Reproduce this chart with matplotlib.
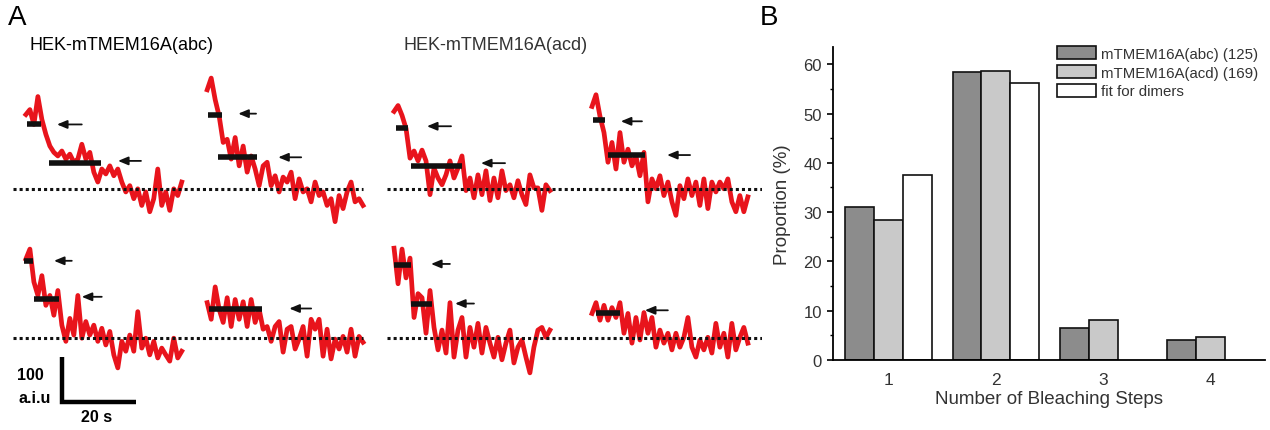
import numpy as np
import matplotlib.pyplot as plt

plt.rcParams['font.family'] = ['Liberation Sans', 'DejaVu Sans']

# Panel B: bleaching step counts (%)
steps = [1, 2, 3, 4]
abc_prop = [31.1, 58.5, 6.4, 4.1]
acd_prop = [28.5, 58.7, 8.2, 4.7]
fit_steps = [1, 2]
fit_dimers = [37.5, 56.2]
legend_labels = ['mTMEM16A(abc) (125)', 'mTMEM16A(acd) (169)', 'fit for dimers']

# Panel A: fluorescence traces (a.u. above background), one sample every dt seconds
dt = 1.08
abc_trace1 = [165, 176, 143, 205, 154, 121, 95, 81, 73, 84, 66, 77, 59, 66, 99, 66, 81, 37, 15, 44,
              33, 51, 29, 44, 15, -7, 7, -22, 0, -37, -7, -51, -22, 44, -37, -7, -48, 0, -15, 15]
abc_trace2 = [220, 246, 198, 161, 103, 110, 66, 114, 51, 95, 37, 73, 44, 7, 51, 59, 7, 29, -7, 26,
              15, 37, -22, 22, -7, 0, -29, 15, -15, -7, -37, -22, -73, -15, -44, -7, 15, -29, -22, -37]
abc_trace3 = [176, 198, 125, 95, 139, 73, 95, 51, 106, 29, -7, 44, 7, 95, 0, 37, 7, 29, -7, 22,
              -15, 15, -37, -66, -7, -29, 7, -29, 59, -22, 0, -37, -7, -44, -22, -37, -51, 0, -44, -29]
abc_trace4 = [79, 42, 114, 64, 35, 90, 26, 86, 42, 81, 26, 86, 35, 64, 20, 26, -7, 26, 37, -31,
              20, 26, -24, -2, 26, -40, 42, 20, 42, -40, 20, -46, -2, -24, 4, -31, 20, -40, 4, -9]
acd_trace1 = [172, 185, 163, 134, 68, 84, 62, 86, 62, -13, 46, 24, 9, 31, 62, 24, 46, 73, -4, 24,
              -20, 31, -13, 40, -26, 24, -20, 40, -4, 9, -20, 18, -13, -35, 31, 2, 2, -48, 9, -4]
acd_trace2 = [183, 209, 161, 125, 59, 103, 44, 125, 59, 88, 51, 73, 29, 81, -29, 22, 0, 29, -15, 15,
              -29, -59, 7, -22, 22, -15, 15, -37, 22, -44, 15, -7, 15, 0, 22, -29, -51, -15, -51, -18]
acd_trace3 = [200, 121, 198, 134, 178, 46, 99, 90, 11, 106, 24, -26, 18, -33, 79, -42, 18, 46, -42, 24,
              -20, 33, -33, 24, -11, -42, 2, -48, -11, 18, -55, -20, -4, -42, -77, -20, 18, 24, 2, 18]
acd_trace4 = [55, 79, 40, 73, 40, 68, 46, 79, 11, 55, -11, 46, -4, 57, 11, 46, -20, 18, -11, 11,
              -26, 11, -20, 2, 46, -20, -42, -4, -26, 2, -33, 33, -20, 11, -42, 33, -26, 2, 24, -11]

# step levels: (level, t_start, t_end); arrows: (level, t_head, t_tail)
abc1_steps = [(143, 0.3, 4.1), (57, 6.2, 20.3)]
abc1_arrows = [(143, 8.4, 15.1), (62, 24.9, 31.1)]
abc2_steps = [(163, 0.3, 4.1), (70, 3.0, 13.5)]
abc2_arrows = [(167, 8.4, 13.2), (70, 19.2, 25.4)]
abc3_steps = [(172, -0.5, 1.9), (88, 2.2, 8.9)]
abc3_arrows = [(172, 7.6, 12.4), (92, 15.1, 20.5)]
abc4_steps = [(66, 0.5, 14.9)]
abc4_arrows = [(66, 22.2, 28.1)]
acd1_steps = [(136, 0.5, 3.8), (51, 4.6, 18.4)]
acd1_arrows = [(139, 8.9, 15.4), (57, 23.5, 30.0)]
acd2_steps = [(154, 0.3, 3.5), (75, 4.3, 14.3)]
acd2_arrows = [(150, 7.8, 13.5), (75, 20.3, 26.5)]
acd3_steps = [(163, 0.0, 4.6), (77, 4.6, 10.3)]
acd3_arrows = [(165, 10.0, 15.1), (77, 16.5, 21.6)]
acd4_steps = [(57, 1.1, 7.6)]
acd4_arrows = [(62, 14.3, 20.5)]

fig = plt.figure(figsize=(12.7, 4.31), dpi=100)

# ---- panel A ----
axA = fig.add_axes([0, 0, 0.6, 1])
axA.set_xlim(0, 762 / 3.7)
axA.set_ylim(0, 431 / 0.45)
axA.axis('off')

col_t0 = [7, 56, 106.5, 160]
row_base = [536, 204]
panels = [
    (abc_trace1, abc1_steps, abc1_arrows, 0, 0),
    (abc_trace2, abc2_steps, abc2_arrows, 1, 0),
    (acd_trace1, acd1_steps, acd1_arrows, 2, 0),
    (acd_trace2, acd2_steps, acd2_arrows, 3, 0),
    (abc_trace3, abc3_steps, abc3_arrows, 0, 1),
    (abc_trace4, abc4_steps, abc4_arrows, 1, 1),
    (acd_trace3, acd3_steps, acd3_arrows, 2, 1),
    (acd_trace4, acd4_steps, acd4_arrows, 3, 1),
]
for tr, st, ar, c, r in panels:
    t0 = col_t0[c]
    base = row_base[r]
    t = t0 + np.arange(len(tr)) * dt
    axA.plot(t, base + np.array(tr), color='#e8141c', lw=3.4, zorder=2)
    for lev, a, b in st:
        axA.plot([t0 + a, t0 + b], [base + lev, base + lev], color='#111111', lw=4.0,
                 solid_capstyle='butt', zorder=4)
    for lev, head, tail in ar:
        axA.annotate('', xy=(t0 + head, base + lev), xytext=(t0 + tail, base + lev),
                     arrowprops=dict(arrowstyle='-|>,head_length=0.6,head_width=0.25',
                                     color='#111111', lw=1.3, shrinkA=0, shrinkB=0))

for base in row_base:
    for x0, x1 in [(3.5, 98.1), (104.6, 206)]:
        axA.plot([x0, x1], [base, base], color='#111111', lw=2.2, ls=(0, (1, 1)),
                 dash_capstyle='butt', zorder=3)

# scale bar: 100 a.u. by 20 s
sx, sy = 16.8, 62
axA.plot([sx, sx, sx + 20], [sy + 100, sy, sy], color='k', lw=3.2,
         solid_joinstyle='miter', solid_capstyle='butt')

fig.text(8 / 1270, 1 - 18 / 431, 'A', fontsize=20, va='center', ha='left')
fig.text(760 / 1270, 1 - 18 / 431, 'B', fontsize=20, va='center', ha='left')
fig.text(121 / 1270, 1 - 46 / 431, 'HEK-mTMEM16A(abc)', fontsize=13, ha='center', va='center')
fig.text(496 / 1270, 1 - 46 / 431, 'HEK-mTMEM16A(acd)', fontsize=13, ha='center', va='center',
         color='#333333')
fig.text(30 / 1270, 1 - 376 / 431, '100', fontsize=11.5, fontweight='bold', ha='center', va='center')
fig.text(35 / 1270, 1 - 399 / 431, 'a.i.u', fontsize=11.5, fontweight='bold', ha='center', va='center')
fig.text(97 / 1270, 1 - 418 / 431, '20 s', fontsize=11.5, fontweight='bold', ha='center', va='center')

# ---- panel B ----
axB = fig.add_axes([833 / 1270, 70 / 431, 432 / 1270, 313 / 431])
w = 0.27
x = np.array(steps)
axB.bar(x - w, abc_prop, w, color='#8c8c8c', edgecolor='#111111', lw=1.2, label=legend_labels[0])
axB.bar(x, acd_prop, w, color='#c9c9c9', edgecolor='#111111', lw=1.2, label=legend_labels[1])
axB.bar(np.array(fit_steps) + w, fit_dimers, w, color='white', edgecolor='#111111', lw=1.2,
        label=legend_labels[2])
axB.set_xlim(0.48, 4.51)
axB.set_ylim(0, 63.5)
axB.set_yticks([0, 10, 20, 30, 40, 50, 60])
axB.set_yticks([5, 15, 25, 35, 45, 55], minor=True)
axB.set_xticks(steps)
axB.tick_params(axis='y', which='major', direction='out', length=4, width=1.2, labelsize=12,
                labelcolor='#333333', pad=4)
axB.tick_params(axis='y', which='minor', direction='out', length=2.5, width=1.0)
axB.tick_params(axis='x', length=0, labelsize=12.5, labelcolor='#333333', pad=9)
for s in ['top', 'right']:
    axB.spines[s].set_visible(False)
for s in ['left', 'bottom']:
    axB.spines[s].set_linewidth(1.3)
axB.set_ylabel('Proportion (%)', fontsize=13.5, color='#333333', labelpad=9)
axB.set_xlabel('Number of Bleaching Steps', fontsize=13.5, color='#333333', labelpad=2)
axB.legend(loc='upper right', bbox_to_anchor=(0.984, 1.003), frameon=False, fontsize=10.8,
           handlelength=2.6, handleheight=0.95, labelspacing=0.28, handletextpad=0.3,
           borderaxespad=0, borderpad=0, labelcolor='#333333')

fig.savefig('out.png', dpi=100)
